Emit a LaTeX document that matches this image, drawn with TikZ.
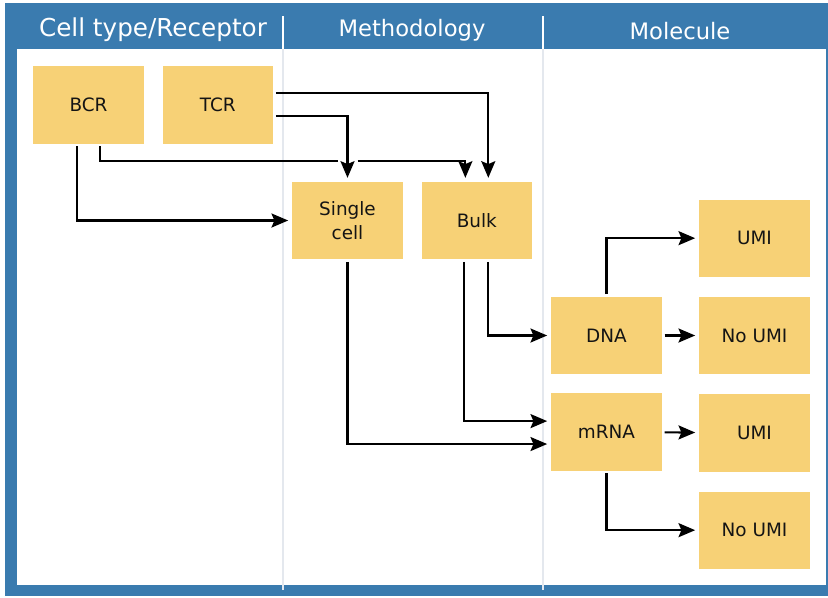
\documentclass[tikz,border=0pt]{standalone}
\usepackage{fontspec}
\setmainfont{DejaVu Sans}
\usepackage{tikz}
\usetikzlibrary{arrows.meta, positioning}

\definecolor{headblue}{RGB}{58,123,175}
\definecolor{boxyellow}{RGB}{247,209,118}
\definecolor{divgray}{RGB}{228,232,238}
\definecolor{textdark}{RGB}{20,20,20}

\begin{document}
\begin{tikzpicture}[x=0.75pt,y=-0.75pt,
    box/.style={rectangle, fill=boxyellow, minimum width=83pt, minimum height=58pt,
        outer sep=2pt, align=center, text=textdark, font=\fontsize{13.8}{18.2}\selectfont},
    head/.style={anchor=base, text=white, font=\fontsize{17}{20}\selectfont},
    link/.style={-{Stealth[length=12.5pt,width=10.5pt,inset=2.2pt]}, line width=1.6pt, shorten >=1pt},
    node distance=97pt]
    \useasboundingbox (0,0) rectangle (828,597);

    % Frame and column headers
    \fill[white] (0,0) rectangle (828,597);
    \fill[headblue] (5,3) rectangle (828,596);
    \fill[white] (17,49) rectangle (826,585);
    \foreach \x in {283,543} {
        \draw[divgray, line width=1.2pt] (\x,49) -- (\x,590);
        \draw[white, line width=1.2pt] (\x,16) -- (\x,49);
    }
    \node[head, font=\fontsize{18.5}{20}\selectfont] (celltype) at (153,36) {Cell type/Receptor};
    \node[head] (method) at (412,36) {Methodology};
    \node[head] (molecule) at (680,39) {Molecule};

    % Boxes
    \node[box] (bcr) at (88.5,105) {BCR};
    \node[box] (tcr) [right of=bcr] {TCR};
    \node[box] (single) at (347.5,220.5) {Single\\cell};
    \node[box] (bulk) [right of=single] {Bulk};
    \node[box] (dna) at (606.5,335.5) {DNA};
    \node[box] (mrna) [below of=dna, node distance=72.4pt] {mRNA};
    \node[box] (noumia) [right of=dna, node distance=111pt] {No UMI};
    \node[box] (umia) [above of=noumia, node distance=73pt] {UMI};
    \node[box] (umib) [below of=noumia, node distance=73pt] {UMI};
    \node[box] (noumib) [below of=umib, node distance=73pt] {No UMI};

    % Receptor to methodology
    \coordinate (hop) at (single.north |- 0,161);
    \draw[link] ([yshift=9pt]tcr.east) -| ([xshift=8.6pt]bulk.north);
    \draw[line width=1.6pt] ([xshift=8.6pt]bcr.south) |- ([xshift=-7.5pt]hop);
    \draw[link] ([xshift=7.5pt]hop) -| ([xshift=-8.6pt]bulk.north);
    \draw[link] ([yshift=-8.5pt]tcr.east) -| (single.north);
    \draw[link] ([xshift=-8.6pt]bcr.south) |- (single.west);

    % Methodology to molecule
    \draw[link] (single.south) |- ([yshift=-9pt]mrna.west);
    \draw[link] ([xshift=-9.4pt]bulk.south) |- ([yshift=8.2pt]mrna.west);
    \draw[link] ([xshift=8.6pt]bulk.south) |- (dna.west);

    % Molecule to UMI
    \draw[link] (dna.north) |- (umia.west);
    \path[link] (dna) edge (noumia) (mrna) edge (umib);
    \draw[link] (mrna.south) |- (noumib.west);
\end{tikzpicture}
\end{document}
